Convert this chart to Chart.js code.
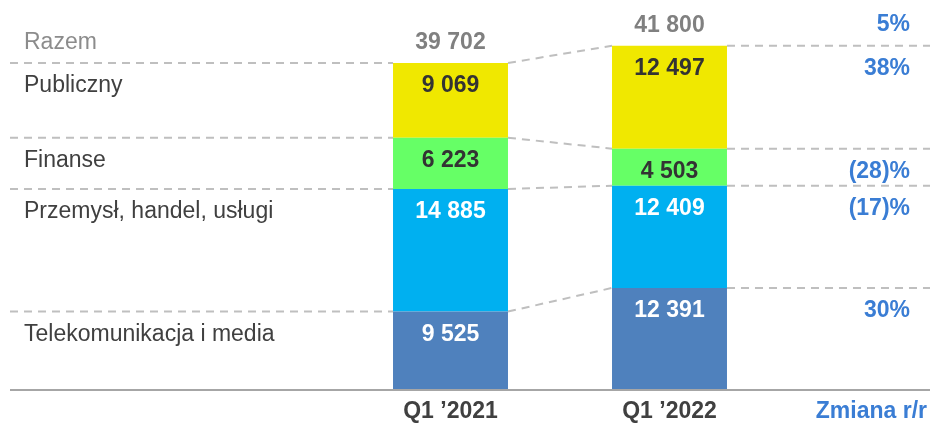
<!DOCTYPE html>
<html>
<head>
<meta charset="utf-8">
<script src="https://cdn.jsdelivr.net/npm/chart.js@4/dist/chart.umd.min.js"></script>
<style>
  html, body { margin: 0; padding: 0; background: #fff; }
  #wrap { width: 930px; height: 423px; position: relative; }
</style>
</head>
<body>
<div id="wrap"><canvas id="segmentChart"></canvas></div>
<script>
// dane z wykresu
const categories = ['Q1 \u20192021', 'Q1 \u20192022'];
const seriesNames = ['Telekomunikacja i media', 'Przemysł, handel, usługi', 'Finanse', 'Publiczny'];
const telekom = [9525, 12391];
const przemysl = [14885, 12409];
const finanse = [6223, 4503];
const publiczny = [9069, 12497];
const totals = [39702, 41800];
const changes = ['30%', '(17)%', '(28)%', '38%'];
const totalChange = '5%';
const totalLabel = 'Razem';
const changeHeader = 'Zmiana r/r';

const colors = ['#4f81bd', '#00b0f0', '#66ff66', '#f0e800'];
const valueColors = ['#ffffff', '#ffffff', '#333333', '#333333'];
const FONT = '"Liberation Sans", Arial, sans-serif';

const fmt = v => String(v).replace(/\B(?=(\d{3})+(?!\d))/g, ' ');

// linie przerywane, etykiety, sumy
const decorations = {
    id: 'decorations',
    beforeDatasetsDraw(chart) {
        const ctx = chart.ctx;
        const n = chart.data.datasets.length;
        ctx.save();
        ctx.strokeStyle = '#bfbfbf';
        ctx.lineWidth = 2;
        ctx.setLineDash([8, 6]);
        for (let i = 0; i < n; i++) {
            const b = chart.getDatasetMeta(i).data;
            const a = b[0], c = b[1];
            ctx.beginPath();
            ctx.moveTo(10, a.y);
            ctx.lineTo(a.x - a.width / 2, a.y);
            ctx.moveTo(a.x + a.width / 2, a.y);
            ctx.lineTo(c.x - c.width / 2, c.y);
            ctx.moveTo(c.x + c.width / 2, c.y);
            ctx.lineTo(930, c.y);
            ctx.stroke();
        }
        ctx.restore();
    },
    afterDatasetsDraw(chart) {
        const ctx = chart.ctx;
        const y = chart.scales.y;
        const x = chart.scales.x;
        const n = chart.data.datasets.length;
        ctx.save();
        ctx.textBaseline = 'middle';

        // oś pozioma
        ctx.strokeStyle = '#a6a6a6';
        ctx.lineWidth = 2;
        ctx.beginPath();
        ctx.moveTo(10, y.getPixelForValue(0));
        ctx.lineTo(930, y.getPixelForValue(0));
        ctx.stroke();

        for (let i = 0; i < n; i++) {
            const bars = chart.getDatasetMeta(i).data;
            const ds = chart.data.datasets[i];
            // wartości w słupkach
            ctx.font = 'bold 23px ' + FONT;
            ctx.textAlign = 'center';
            ctx.fillStyle = valueColors[i];
            bars.forEach((b, j) => ctx.fillText(fmt(ds.data[j]), b.x, b.y + 23));
            // nazwy po lewej
            ctx.font = '23px ' + FONT;
            ctx.textAlign = 'left';
            ctx.fillStyle = '#404040';
            ctx.fillText(ds.label, 24, bars[0].y + 23);
            // zmiana r/r
            ctx.font = 'bold 23px ' + FONT;
            ctx.textAlign = 'right';
            ctx.fillStyle = '#3a7dd4';
            ctx.fillText(changes[i], 910, bars[1].y + 23);
        }

        // sumy
        ctx.font = 'bold 23px ' + FONT;
        ctx.textAlign = 'center';
        ctx.fillStyle = '#808080';
        totals.forEach((t, j) => {
            ctx.fillText(fmt(t), x.getPixelForValue(j), y.getPixelForValue(t) - 20);
        });
        ctx.font = '23px ' + FONT;
        ctx.textAlign = 'left';
        ctx.fillStyle = '#8c8c8c';
        ctx.fillText(totalLabel, 24, y.getPixelForValue(totals[0]) - 20);
        ctx.font = 'bold 23px ' + FONT;
        ctx.textAlign = 'right';
        ctx.fillStyle = '#3a7dd4';
        ctx.fillText(totalChange, 910, y.getPixelForValue(totals[1]) - 21);

        // kategorie
        ctx.textAlign = 'center';
        ctx.fillStyle = '#404040';
        categories.forEach((c, j) => ctx.fillText(c, x.getPixelForValue(j), 412));
        ctx.textAlign = 'right';
        ctx.fillStyle = '#3a7dd4';
        ctx.fillText(changeHeader, 927, 412);
        ctx.restore();
    }
};

const seriesValues = [telekom, przemysl, finanse, publiczny];

new Chart(document.getElementById('segmentChart'), {
    type: 'bar',
    data: {
        labels: categories,
        datasets: seriesNames.map((name, i) => ({
            label: name,
            data: seriesValues[i],
            backgroundColor: colors[i],
            borderWidth: 0,
            categoryPercentage: 1,
            barPercentage: 0.525
        }))
    },
    options: {
        responsive: true,
        maintainAspectRatio: false,
        animation: false,
        layout: { padding: { left: 341, right: 151, top: 0, bottom: 33 } },
        plugins: {
            legend: { display: false },
            tooltip: { enabled: false }
        },
        scales: {
            x: { stacked: true, display: false },
            y: { stacked: true, display: false, min: 0, max: 47350 }
        }
    },
    plugins: [decorations]
});
</script>
</body>
</html>
